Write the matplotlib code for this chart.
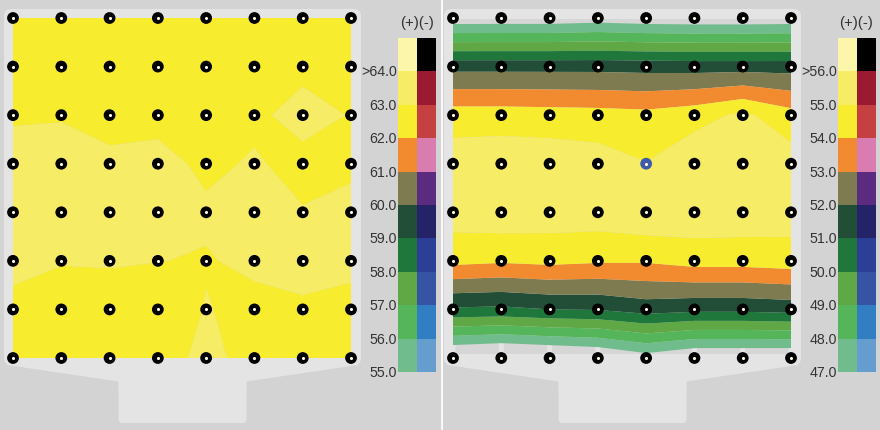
import numpy as np
import matplotlib
matplotlib.use("Agg")
import matplotlib.pyplot as plt
from matplotlib.patches import FancyBboxPatch, Polygon, Rectangle

# ---------------- data ----------------
plus_colors = ["#70BC8D", "#55B55B", "#5FA845", "#1F773C", "#224E38",
               "#7F7B50", "#F28B30", "#F8EC2E", "#F6EC66", "#FBF6A9"]
minus_colors = ["#659DCF", "#317EC2", "#3653A4", "#2A3F95", "#252368",
                "#5A2B7E", "#D97DB1", "#C44041", "#9A1A32", "#000000"]

left_levels = [55, 56, 57, 58, 59, 60, 61, 62, 63, 64]
left_labels = ["55.0", "56.0", "57.0", "58.0", "59.0", "60.0", "61.0", "62.0", "63.0", ">64.0"]
right_levels = [47, 48, 49, 50, 51, 52, 53, 54, 55, 56]
right_labels = ["47.0", "48.0", "49.0", "50.0", "51.0", "52.0", "53.0", "54.0", "55.0", ">56.0"]

# sensor readings, rows top -> bottom, columns left -> right
left_values = [
    [62.40, 62.50, 62.50, 62.60, 62.50, 62.40, 62.50, 62.40],
    [62.60, 62.70, 62.70, 62.60, 62.60, 62.70, 62.75, 62.70],
    [62.97, 62.93, 62.95, 62.70, 62.60, 62.80, 63.35, 62.95],
    [63.10, 63.40, 63.03, 63.30, 62.80, 63.10, 62.70, 62.90],
    [63.10, 63.40, 63.40, 63.40, 63.15, 63.40, 63.05, 63.15],
    [63.10, 63.10, 63.15, 63.02, 62.93, 63.20, 63.35, 63.20],
    [62.90, 62.10, 62.15, 62.30, 63.05, 62.72, 62.85, 62.75],
    [62.40, 62.50, 62.50, 62.50, 63.30, 62.60, 62.50, 62.40],
]
right_values = [
    [46.33, 46.35, 46.35, 46.50, 46.35, 46.30, 46.30, 46.35],
    [51.70, 51.70, 51.70, 51.70, 51.65, 51.60, 51.60, 51.60],
    [54.50, 54.50, 54.45, 54.40, 54.30, 54.60, 55.20, 54.40],
    [55.56, 55.67, 55.60, 55.45, 55.03, 55.75, 55.70, 55.45],
    [55.49, 55.65, 55.55, 55.55, 55.79, 55.69, 55.63, 55.50],
    [54.29, 54.14, 54.27, 54.13, 54.11, 54.39, 54.39, 54.52],
    [50.86, 50.79, 51.00, 51.06, 51.44, 51.26, 51.26, 51.39],
    [45.60, 45.33, 45.56, 45.82, 46.50, 45.91, 45.91, 45.87],
]
right_highlight = (3, 4)   # row, column of the blue-ringed sensor

# ---------------- figure ----------------
W, H = 880, 431
fig = plt.figure(figsize=(W / 100, H / 100), dpi=100)
fig.patch.set_facecolor("#D3D3D3")
ax = fig.add_axes([0, 0, 1, 1])
ax.set_xlim(0, W)
ax.set_ylim(H, 0)
ax.axis("off")

FRAME = "#E3E4E3"
INNER = "#D6D6D6"
TXT = "#333333"
FONT = ["Liberation Sans", "DejaVu Sans"]


def draw_panel(x0, values, levels, labels, cb_x, highlight=None):
    w = 357
    cx = x0 + w / 2
    # device outline
    ax.add_patch(FancyBboxPatch((x0, 10), w, 356, boxstyle="round,pad=0,rounding_size=7",
                                fc=FRAME, ec="none", zorder=1))
    ax.add_patch(Polygon([(x0 + 3, 360), (x0 + w - 3, 360), (x0 + w - 3, 366),
                          (cx + 64, 382.5), (cx + 64, 392), (cx - 64, 392),
                          (cx - 64, 382.5), (x0 + 3, 366)],
                         closed=True, fc=FRAME, ec="none", zorder=1))
    ax.add_patch(FancyBboxPatch((cx - 64, 372), 128, 52, boxstyle="round,pad=0,rounding_size=4",
                                fc=FRAME, ec="none", zorder=1))

    vals = np.array(values)
    nr, nc = vals.shape
    xs = x0 + 9 + np.arange(nc) * (338 / (nc - 1))
    ys = 19 + np.arange(nr) * (340 / (nr - 1))

    # inner tiles between sensor columns
    for i in range(nc - 1):
        ax.add_patch(FancyBboxPatch((xs[i] + 2.5, 20), xs[i + 1] - xs[i] - 5, 335,
                                    boxstyle="round,pad=0,rounding_size=2",
                                    fc=INNER, ec="none", zorder=2))

    X, Y = np.meshgrid(xs, ys)
    lv = list(levels) + [levels[-1] + 1000]
    ax.contourf(X, Y, vals, levels=lv, colors=plus_colors, zorder=3, antialiased=True)

    # sensors
    ring = np.full(vals.shape, "black", dtype=object)
    if highlight is not None:
        ring[highlight] = "#3F5BA9"
    ax.scatter(X.ravel(), Y.ravel(), s=72, c=list(ring.ravel()), linewidths=0, zorder=5)
    ax.scatter(X.ravel(), Y.ravel(), s=5, c="#FFFFEA", linewidths=0, zorder=6)

    # legend bar
    top, bot = 39, 373
    n = len(levels)
    bh = (bot - top) / n
    for i in range(n):
        yb = bot - i * bh
        ax.add_patch(Rectangle((cb_x, yb - bh), 19, bh, fc=plus_colors[i], ec="none", zorder=4))
        ax.add_patch(Rectangle((cb_x + 19, yb - bh), 19, bh, fc=minus_colors[i], ec="none", zorder=4))
        ax.text(cb_x - 1, yb, labels[i], ha="right", va="center", fontsize=10.2,
                color=TXT, family=FONT, zorder=7)
    ax.text(cb_x + 19, 23, "(+)(-)", ha="center", va="center", fontsize=10.8,
            color=TXT, family=FONT, zorder=7)


draw_panel(4, left_values, left_levels, left_labels, 398)
draw_panel(444, right_values, right_levels, right_labels, 837.5, highlight=right_highlight)

# separator
ax.plot([442, 442], [0, H], color="white", lw=1.3, zorder=8, solid_capstyle="butt")

fig.savefig("out.png", dpi=100, facecolor=fig.get_facecolor())
